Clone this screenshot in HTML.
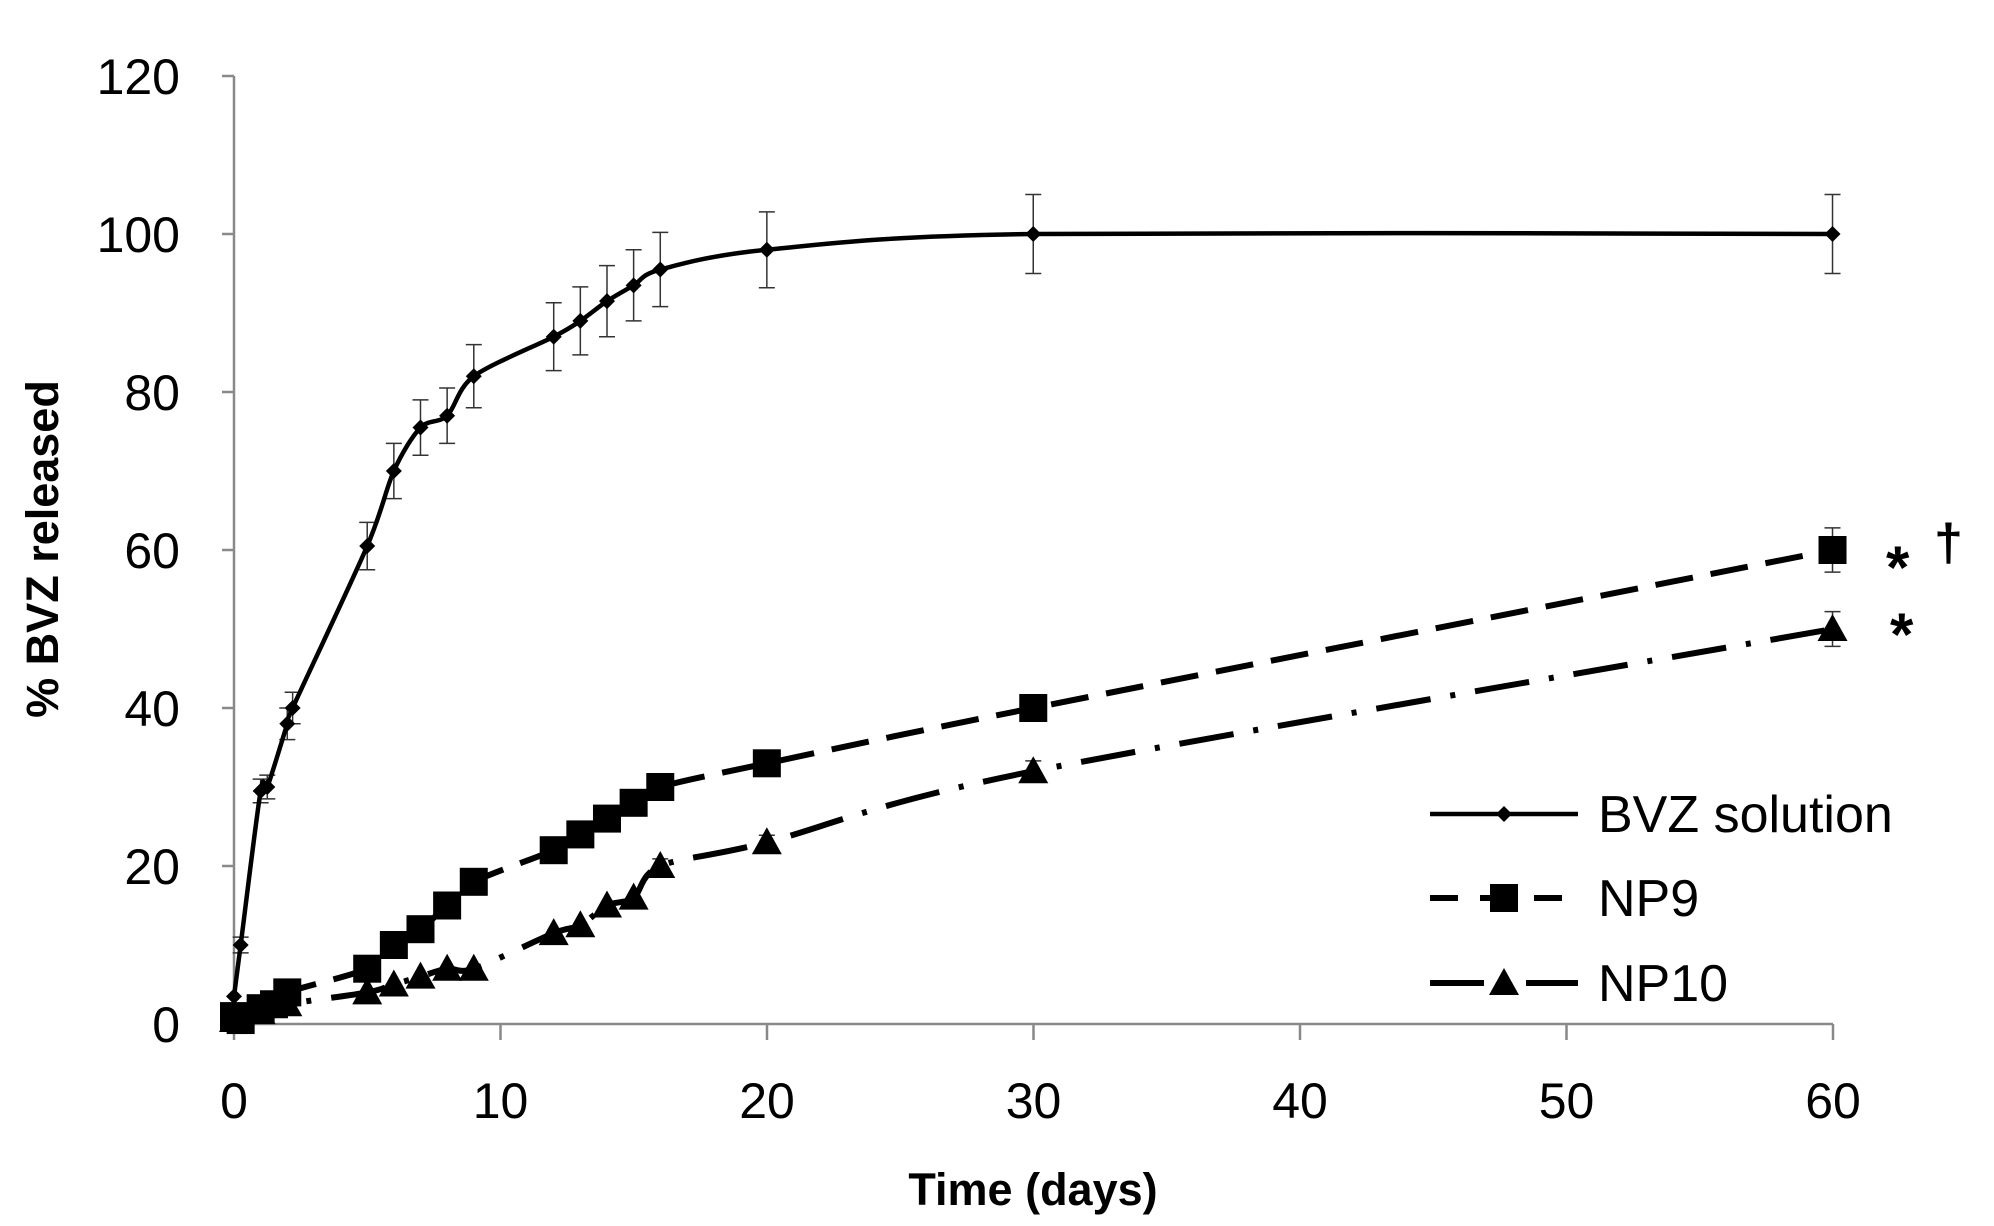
<!DOCTYPE html>
<html><head><meta charset="utf-8"><style>
html,body{margin:0;padding:0;background:#fff;}
svg{display:block;}
text{font-family:"Liberation Sans",sans-serif;fill:#000;}
</style></head><body>
<svg id="s" width="1994" height="1226" viewBox="0 0 1994 1226" xmlns="http://www.w3.org/2000/svg">
<rect width="1994" height="1226" fill="#fff"/>
<g stroke="#898989" stroke-width="2.5" fill="none">
<line x1="234" y1="76" x2="234" y2="1024"/>
<line x1="234" y1="1024" x2="1833" y2="1024"/>
<line x1="222" y1="76" x2="234" y2="76"/>
<line x1="222" y1="234" x2="234" y2="234"/>
<line x1="222" y1="392" x2="234" y2="392"/>
<line x1="222" y1="550" x2="234" y2="550"/>
<line x1="222" y1="708" x2="234" y2="708"/>
<line x1="222" y1="866" x2="234" y2="866"/>
<line x1="222" y1="1024" x2="234" y2="1024"/>
<line x1="234" y1="1024" x2="234" y2="1040"/>
<line x1="500.5" y1="1024" x2="500.5" y2="1040"/>
<line x1="767" y1="1024" x2="767" y2="1040"/>
<line x1="1033.5" y1="1024" x2="1033.5" y2="1040"/>
<line x1="1300" y1="1024" x2="1300" y2="1040"/>
<line x1="1566.5" y1="1024" x2="1566.5" y2="1040"/>
<line x1="1833" y1="1024" x2="1833" y2="1040"/>
</g>
<g font-size="50" text-anchor="end">
<text x="180" y="94">120</text>
<text x="180" y="252">100</text>
<text x="180" y="410">80</text>
<text x="180" y="568">60</text>
<text x="180" y="726">40</text>
<text x="180" y="884">20</text>
<text x="180" y="1042">0</text>
</g>
<g font-size="50" text-anchor="middle">
<text x="234" y="1118">0</text>
<text x="500.5" y="1118">10</text>
<text x="767" y="1118">20</text>
<text x="1033.5" y="1118">30</text>
<text x="1300" y="1118">40</text>
<text x="1566.5" y="1118">50</text>
<text x="1833" y="1118">60</text>
</g>
<text x="1033" y="1205" font-size="45" font-weight="bold" text-anchor="middle">Time (days)</text>
<text transform="translate(58,549) rotate(-90)" font-size="45" font-weight="bold" text-anchor="middle">% BVZ released</text>
<g id="plot"></g>
<g font-size="52">
<text x="1598" y="832">BVZ solution</text>
<text x="1598" y="916">NP9</text>
<text x="1598" y="1001">NP10</text>
</g>
<g font-size="60" font-weight="bold">
<text x="1886" y="588">*</text>
<text x="1890" y="655">*</text>
</g>
<text x="1934" y="560" font-size="52" font-weight="bold">†</text>
</svg>
<script>
var NS="http://www.w3.org/2000/svg",P=document.getElementById("plot");
function X(d){return 234+d*26.642;}function Y(v){return 1024-v*7.9;}
function el(t,a){var e=document.createElementNS(NS,t);for(var k in a)e.setAttribute(k,a[k]);P.appendChild(e);return e;}
var bvz=[[0,3.5,0],[0.25,10,1],[1,29.5,1.5],[1.25,30,1.5],[2,38,2],[2.2,40,2],[5,60.5,3],[6,70,3.5],[7,75.5,3.5],[8,77,3.5],[9,82,4],[12,87,4.3],[13,89,4.3],[14,91.5,4.5],[15,93.5,4.5],[16,95.5,4.7],[20,98,4.8],[30,100,5],[60,100,5]];
var np9=[[0,1,0],[0.25,0.5,0],[1,2,0],[1.5,2.5,0],[2,4,0],[5,7,0],[6,10,0],[7,12,0],[8,15,0],[9,18,0],[12,22,0],[13,24,0],[14,26,0],[15,28,0],[16,30,0],[20,33,0],[30,40,0],[60,60,2.8]];
var np10=[[0,0.5,0],[1,1.5,0],[2,2.5,0],[5,4,0],[6,5,0],[7,6,0],[8,7,0],[9,7,0],[12,11.5,0],[13,12.5,0],[14,15,0],[15,16,0],[16,20,0.9],[20,23,0.9],[30,32,1.3],[60,50,2.2]];
function pts(d){return d.map(function(p){return X(p[0]).toFixed(1)+","+Y(p[1]).toFixed(1);}).join(" ");}
function smooth(d){var q=d.map(function(p){return [X(p[0]),Y(p[1])];});var s="M"+q[0][0]+","+q[0][1];
for(var i=0;i<q.length-1;i++){var p0=q[i-1]||q[i],p1=q[i],p2=q[i+1],p3=q[i+2]||q[i+1];var t=0.15;
s+=" C"+(p1[0]+(p2[0]-p0[0])*t)+","+(p1[1]+(p2[1]-p0[1])*t)+" "+(p2[0]-(p3[0]-p1[0])*t)+","+(p2[1]-(p3[1]-p1[1])*t)+" "+p2[0]+","+p2[1];}return s;}
function err(d){d.forEach(function(p){if(!p[2])return;var x=X(p[0]),a=Y(p[1]+p[2]),b=Y(p[1]-p[2]);
el("line",{x1:x,y1:a,x2:x,y2:b,stroke:"#333","stroke-width":1.5});
el("line",{x1:x-8,y1:a,x2:x+8,y2:a,stroke:"#333","stroke-width":1.5});
el("line",{x1:x-8,y1:b,x2:x+8,y2:b,stroke:"#333","stroke-width":1.5});});}
err(bvz);err(np9);err(np10);
el("path",{d:smooth(np10),fill:"none",stroke:"#000","stroke-width":6,"stroke-dasharray":"55 20 5 20"});
el("path",{d:smooth(np9),fill:"none",stroke:"#000","stroke-width":6,"stroke-dasharray":"38 18"});
el("path",{d:smooth(bvz),fill:"none",stroke:"#000","stroke-width":4.5,"stroke-linejoin":"round"});
function sq(x,y){el("rect",{x:x-14,y:y-14,width:28,height:28,fill:"#000"});}
function tri(x,y){el("polygon",{points:(x-15)+","+(y+12)+" "+(x+15)+","+(y+12)+" "+x+","+(y-15),fill:"#000"});}
function dia(x,y){el("polygon",{points:x+","+(y-8)+" "+(x+8)+","+y+" "+x+","+(y+8)+" "+(x-8)+","+y,fill:"#000"});}
np9.forEach(function(p){sq(X(p[0]),Y(p[1]));});
np10.forEach(function(p){tri(X(p[0]),Y(p[1]));});
bvz.forEach(function(p){dia(X(p[0]),Y(p[1]));});
// legend
el("line",{x1:1430,y1:814,x2:1578,y2:814,stroke:"#000","stroke-width":4.5});dia(1504,814);
el("line",{x1:1430,y1:898,x2:1458,y2:898,stroke:"#000","stroke-width":6});
el("line",{x1:1480,y1:898,x2:1500,y2:898,stroke:"#000","stroke-width":6});
el("line",{x1:1534,y1:898,x2:1562,y2:898,stroke:"#000","stroke-width":6});sq(1504,898);
el("line",{x1:1430,y1:983,x2:1484,y2:983,stroke:"#000","stroke-width":6});
el("line",{x1:1526,y1:983,x2:1578,y2:983,stroke:"#000","stroke-width":6});tri(1504,983);
</script>
</body></html>
